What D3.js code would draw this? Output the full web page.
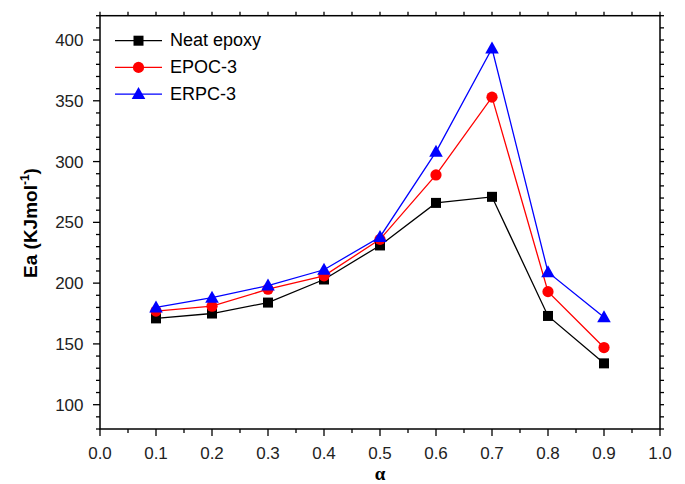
<!DOCTYPE html>
<html><head><meta charset="utf-8">
<script src="https://cdn.jsdelivr.net/npm/d3@7"></script>
<style>body{margin:0;background:#fff}svg{display:block}</style>
</head><body>
<svg id="c" width="685" height="484"></svg>
<script>
const alpha = [0.1,0.2,0.3,0.4,0.5,0.6,0.7,0.8,0.9];
const neatEpoxy = [171,175,184,203,231,266,271,173,134];
const epoc3 = [177,181,195,206,236,289,353,193,147];
const erpc3 = [180,188,198,211,238,308,393,209,172];
const seriesNames = ["Neat epoxy","EPOC-3","ERPC-3"];
const seriesColors = ["#000000","#ff0000","#0000ff"];
const seriesShapes = ["square","circle","triangle"];
const xTicks = [0.0,0.1,0.2,0.3,0.4,0.5,0.6,0.7,0.8,0.9,1.0];
const yTicks = [100,150,200,250,300,350,400];

const svg = d3.select("#c");
const L=100,R=660,T=15.7,B=429;
const x = d3.scaleLinear().domain([0,1]).range([L,R]);
const y = d3.scaleLinear().domain([80,420]).range([B,T]);
const font = "'Liberation Sans', Arial, sans-serif";

const series = [neatEpoxy,epoc3,erpc3].map((v,i)=>({name:seriesNames[i],color:seriesColors[i],shape:seriesShapes[i],values:v}));

const xMinor = d3.range(0,1.0001,0.05);
const yMinor = d3.range(80,420.001,10);
const g = svg.append("g");
const ax = svg.append("g").attr("stroke","#000");
ax.append("rect").attr("x",L).attr("y",T).attr("width",R-L).attr("height",B-T).attr("fill","none").attr("stroke-width",1.5);
xMinor.forEach(v=>{
  const major = xTicks.some(t=>Math.abs(t-v)<1e-6);
  ax.append("line").attr("x1",x(v)).attr("x2",x(v)).attr("y1",B).attr("y2",B+(major?7:4)).attr("stroke-width",1.3);
  ax.append("line").attr("x1",x(v)).attr("x2",x(v)).attr("y1",T).attr("y2",T-4).attr("stroke-width",1.3);
});
yMinor.forEach(v=>{
  const major = yTicks.includes(Math.round(v));
  ax.append("line").attr("x1",L).attr("x2",L-(major?7:4)).attr("y1",y(v)).attr("y2",y(v)).attr("stroke-width",1.3);
  ax.append("line").attr("x1",R).attr("x2",R+4).attr("y1",y(v)).attr("y2",y(v)).attr("stroke-width",1.3);
});
svg.append("g").selectAll("text").data(xTicks).join("text")
  .attr("x",d=>x(d)).attr("y",458.5).attr("text-anchor","middle")
  .attr("font-family",font).attr("font-size",17).attr("fill","#222").text(d=>d.toFixed(1));
svg.append("g").selectAll("text").data(yTicks).join("text")
  .attr("x",83.5).attr("y",d=>y(d)+6).attr("text-anchor","end")
  .attr("font-family",font).attr("font-size",17).attr("fill","#222").text(d=>d);

const yl = svg.append("text").attr("transform","translate(37,223) rotate(-90)").attr("text-anchor","middle")
  .attr("font-family",font).attr("font-size",19).attr("font-weight","bold").attr("fill","#000");
yl.append("tspan").text("Ea (KJmol");
yl.append("tspan").attr("font-size",12).attr("dy",-8).text("-1");
yl.append("tspan").attr("dy",8).text(")");
svg.append("text").attr("x",x(0.5)).attr("y",479.5).attr("text-anchor","middle")
  .attr("font-family","'Liberation Serif', 'Times New Roman', serif").attr("font-size",19).attr("font-weight","bold").text("α");

function marker(sel, shape, color){
  if(shape==="square") sel.append("rect").attr("x",-5).attr("y",-5).attr("width",10).attr("height",10).attr("fill",color);
  else if(shape==="circle") sel.append("circle").attr("r",5.6).attr("fill",color);
  else sel.append("path").attr("d","M0,-7L6.8,5L-6.8,5Z").attr("fill",color);
}

const line = d3.line().x((d,i)=>x(alpha[i])).y(d=>y(d));
series.forEach(s=>{
  g.append("path").attr("d",line(s.values)).attr("fill","none").attr("stroke",s.color).attr("stroke-width",1.3);
});
series.forEach(s=>{
  s.values.forEach((v,i)=>{
    const m = g.append("g").attr("transform",`translate(${x(alpha[i])},${y(v)})`);
    marker(m,s.shape,s.color);
  });
});

const leg = svg.append("g");
series.forEach((s,i)=>{
  const yy = 40.7 + i*26.7;
  leg.append("line").attr("x1",115).attr("x2",162).attr("y1",yy).attr("y2",yy).attr("stroke",s.color).attr("stroke-width",1.3);
  marker(leg.append("g").attr("transform",`translate(138.5,${yy})`),s.shape,s.color);
  leg.append("text").attr("x",170).attr("y",yy+5.5).attr("font-family",font).attr("font-size",18).attr("fill","#000").text(s.name);
});
</script>
</body></html>
